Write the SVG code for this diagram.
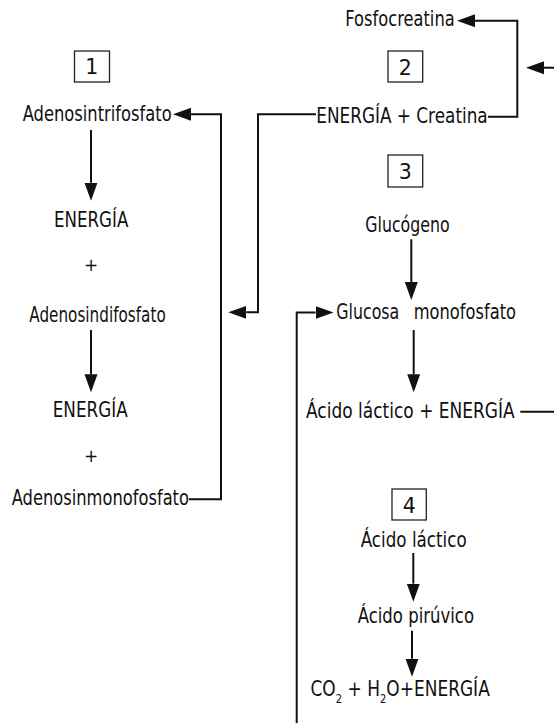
<svg xmlns="http://www.w3.org/2000/svg" width="554" height="723" viewBox="0 0 554 723">
<style>
text{font-family:"DejaVu Sans","Liberation Sans",sans-serif;font-size:20.5px;fill:#111}
.sub{font-size:12px}
.plus{font-size:17px}
.box{fill:none;stroke:#222;stroke-width:1.3}
.c{fill:none;stroke:#111;stroke-width:2}
</style>
<defs>
<marker id="ah" markerUnits="userSpaceOnUse" markerWidth="18" markerHeight="14" refX="0" refY="6.5" orient="auto" viewBox="0 0 18 13">
<path d="M0,0 L18,6.5 L0,13 z" fill="#111"/>
</marker>
</defs>
<rect width="554" height="723" fill="#fff"/>
<g id="connectors">
<polyline class="c" points="189,499.3 221,499.3 221,114.3 191,114.3" marker-end="url(#ah)"/>
<polyline class="c" points="316,114.3 258,114.3 258,312.3 246.3,312.3" marker-end="url(#ah)"/>
<polyline class="c" points="488,116.7 517.3,116.7 517.3,20.7 475,20.7" marker-end="url(#ah)"/>
<polyline class="c" points="554,67.7 544,67.7" marker-end="url(#ah)"/>
<polyline class="c" points="520.3,411.7 554,411.7"/>
<polyline class="c" points="296.7,723 296.7,312.5 315.5,312.5" marker-end="url(#ah)"/>
<line class="c" x1="91" y1="130" x2="91" y2="182.7" marker-end="url(#ah)"/>
<line class="c" x1="91" y1="330" x2="91" y2="374.3" marker-end="url(#ah)"/>
<line class="c" x1="411.3" y1="239.3" x2="411.3" y2="282" marker-end="url(#ah)"/>
<line class="c" x1="413.7" y1="330" x2="413.7" y2="374.3" marker-end="url(#ah)"/>
<line class="c" x1="413.3" y1="553" x2="413.3" y2="583.7" marker-end="url(#ah)"/>
<line class="c" x1="412" y1="630.7" x2="412" y2="658.7" marker-end="url(#ah)"/>
</g>
<g id="box1"><rect class="box" x="74.5" y="51" width="35" height="31"/><text x="91.8" y="74" text-anchor="middle">1</text></g>
<g id="box2"><rect class="box" x="388" y="51" width="34.7" height="31"/><text x="405.3" y="75" text-anchor="middle">2</text></g>
<g id="box3"><rect class="box" x="388" y="155" width="34.7" height="32"/><text x="405.3" y="179" text-anchor="middle">3</text></g>
<g id="box4"><rect class="box" x="392" y="489" width="34.3" height="31"/><text x="409.2" y="513" text-anchor="middle">4</text></g>
<g id="fosfocreatina"><text x="345.3" y="26" textLength="109.4" lengthAdjust="spacingAndGlyphs">Fosfocreatina</text></g>
<g id="atp"><text x="22.7" y="120.7" textLength="149" lengthAdjust="spacingAndGlyphs">Adenosintrifosfato</text></g>
<g id="energia-creatina"><text x="316.3" y="123.3" textLength="171.4" lengthAdjust="spacingAndGlyphs">ENERGÍA + Creatina</text></g>
<g id="energia1"><text x="54" y="226.7" textLength="74.3" lengthAdjust="spacingAndGlyphs">ENERGÍA</text></g>
<g id="plus1"><text class="plus" x="91" y="271" text-anchor="middle">+</text></g>
<g id="glucogeno"><text x="365.3" y="232.3" textLength="84.4" lengthAdjust="spacingAndGlyphs">Glucógeno</text></g>
<g id="adp"><text x="29.3" y="321.7" textLength="136.4" lengthAdjust="spacingAndGlyphs">Adenosindifosfato</text></g>
<g id="glucosa"><text x="336.3" y="319" textLength="63" lengthAdjust="spacingAndGlyphs">Glucosa</text><text x="413.7" y="319" textLength="102.3" lengthAdjust="spacingAndGlyphs">monofosfato</text></g>
<g id="energia2"><text x="52.7" y="416.7" textLength="75" lengthAdjust="spacingAndGlyphs">ENERGÍA</text></g>
<g id="plus2"><text class="plus" x="91" y="462" text-anchor="middle">+</text></g>
<g id="lactico-energia"><text x="306" y="418.3" textLength="208.7" lengthAdjust="spacingAndGlyphs">Ácido láctico + ENERGÍA</text></g>
<g id="amp"><text x="11.7" y="505" textLength="177.3" lengthAdjust="spacingAndGlyphs">Adenosinmonofosfato</text></g>
<g id="lactico"><text x="360.7" y="547.3" textLength="106" lengthAdjust="spacingAndGlyphs">Ácido láctico</text></g>
<g id="piruvico"><text x="357.7" y="623.3" textLength="116.3" lengthAdjust="spacingAndGlyphs">Ácido pirúvico</text></g>
<g id="co2"><text transform="translate(310.5 696) scale(0.83 1)">CO<tspan class="sub" dy="6.5">2</tspan><tspan dy="-6.5"> + H</tspan><tspan class="sub" dy="6.5">2</tspan><tspan dy="-6.5">O+ENERGÍA</tspan></text></g>
</svg>
